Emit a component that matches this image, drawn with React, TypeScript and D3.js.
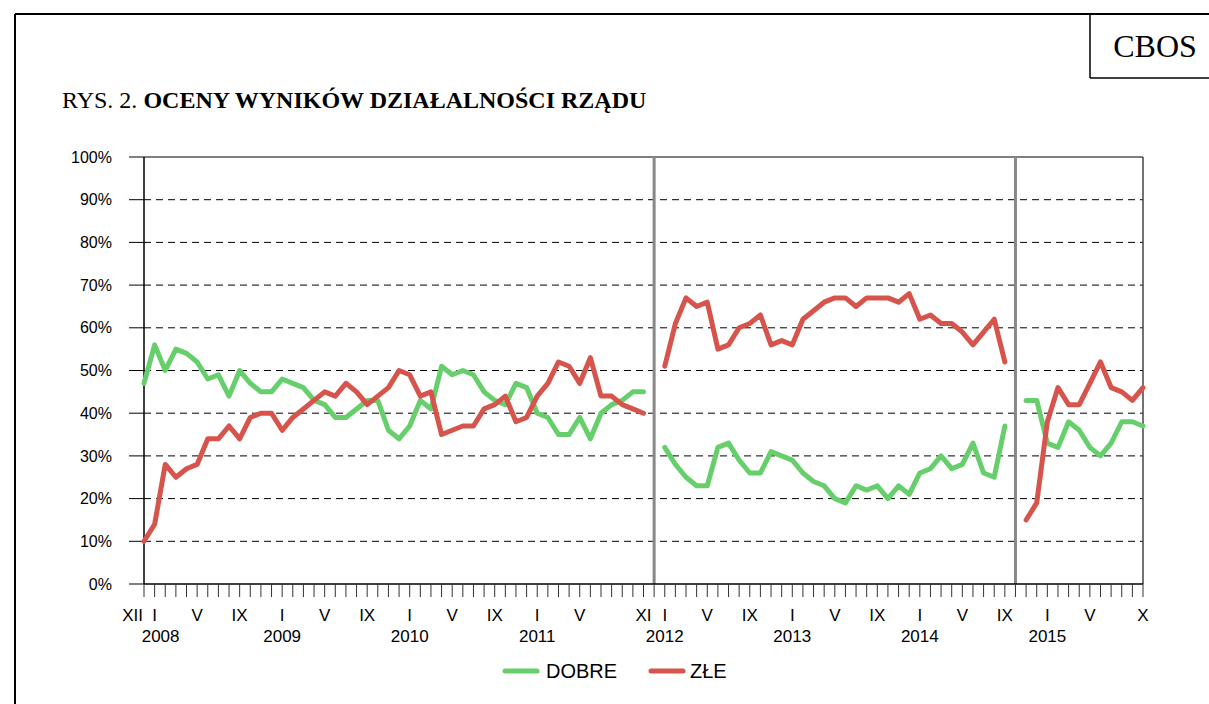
import React from "react";
import * as d3 from "d3";

// miesiące od XII 2007 (indeks 0) do X 2015 (indeks 94)
const startMonth = new Date(2007, 11, 1);
const endMonth = new Date(2015, 9, 1);
const months = d3.timeMonth.range(startMonth, d3.timeMonth.offset(endMonth, 1));

const romanMonths = ["I", "II", "III", "IV", "V", "VI", "VII", "VIII", "IX", "X", "XI", "XII"];
const yTicks = [0, 10, 20, 30, 40, 50, 60, 70, 80, 90, 100];
const years = [2008, 2009, 2010, 2011, 2012, 2013, 2014, 2015];
// miesiące z podpisem: indeks w szeregu
const labeledIdx = [0, 1, 5, 9, 13, 17, 21, 25, 29, 33, 37, 41, 47, 49, 53, 57, 61, 65, 69, 73, 77, 81, 85, 89, 94];
// przerwy w badaniach (pionowe linie)
const breakIdx = [48, 82];

const dobre: (number | null)[] = [
  47, 56, 50, 55, 54, 52, 48, 49, 44, 50, 47, 45, 45, 48, 47, 46, 43, 42, 39, 39, 41, 43, 43, 36,
  34, 37, 43, 41, 51, 49, 50, 49, 45, 43, 42, 47, 46, 40, 39, 35, 35, 39, 34, 40, 42, 43, 45, 45,
  null,
  32, 28, 25, 23, 23, 32, 33, 29, 26, 26, 31, 30, 29, 26, 24, 23, 20, 19, 23, 22, 23, 20, 23, 21,
  26, 27, 30, 27, 28, 33, 26, 25, 37,
  null,
  43, 43, 33, 32, 38, 36, 32, 30, 33, 38, 38, 37,
];

const zle: (number | null)[] = [
  10, 14, 28, 25, 27, 28, 34, 34, 37, 34, 39, 40, 40, 36, 39, 41, 43, 45, 44, 47, 45, 42, 44, 46,
  50, 49, 44, 45, 35, 36, 37, 37, 41, 42, 44, 38, 39, 44, 47, 52, 51, 47, 53, 44, 44, 42, 41, 40,
  null,
  51, 61, 67, 65, 66, 55, 56, 60, 61, 63, 56, 57, 56, 62, 64, 66, 67, 67, 65, 67, 67, 67, 66, 68,
  62, 63, 61, 61, 59, 56, 59, 62, 52,
  null,
  15, 19, 38, 46, 42, 42, 47, 52, 46, 45, 43, 46,
];

const GREEN = "#66cf6c";
const RED = "#d6544b";

export default function App() {
  const W = 1209;
  const H = 704;
  const left = 144;
  const right = 1143;
  const top = 157;
  const bottom = 584;

  const x = d3.scaleLinear().domain([0, months.length - 1]).range([left, right]);
  const y = d3.scaleLinear().domain([0, 100]).range([bottom, top]);

  const line = d3
    .line<number | null>()
    .defined((d) => d !== null)
    .x((_, i) => x(i))
    .y((d) => y(d as number));

  const sans = "'Liberation Sans', Arial, sans-serif";
  const serif = "'Liberation Serif', 'Times New Roman', serif";

  const yearIdx = (yr: number) => months.findIndex((m) => m.getFullYear() === yr && m.getMonth() === 0);

  return (
    <svg width={W} height={H} style={{ position: "absolute", left: 0, top: 0, background: "#fff" }}>
      {/* ramka */}
      <line x1={15} y1={14} x2={W} y2={14} stroke="#000" strokeWidth={2} />
      <line x1={15} y1={14} x2={15} y2={H} stroke="#000" strokeWidth={2} />
      <line x1={1090} y1={14} x2={1090} y2={78} stroke="#000" strokeWidth={1.5} />
      <line x1={1090} y1={78} x2={W} y2={78} stroke="#000" strokeWidth={1.5} />
      <text x={1155} y={57} textAnchor="middle" fontFamily={serif} fontSize={32}>
        CBOS
      </text>
      <text x={62} y={108} fontFamily={serif} fontSize={24}>
        RYS. 2. <tspan fontWeight="bold">OCENY WYNIKÓW DZIAŁALNOŚCI RZĄDU</tspan>
      </text>

      {/* siatka */}
      {yTicks.map((t) => (
        <g key={t}>
          {t > 0 && t < 100 && (
            <line x1={left} x2={right} y1={y(t)} y2={y(t)} stroke="#000" strokeWidth={1} strokeDasharray="7,5" />
          )}
          <line x1={left - 15} x2={left} y1={y(t)} y2={y(t)} stroke="#000" strokeWidth={1} />
          <text x={112} y={y(t)} dy="0.35em" textAnchor="end" fontFamily={sans} fontSize={16}>
            {t}%
          </text>
        </g>
      ))}
      <line x1={left} x2={right} y1={top} y2={top} stroke="#000" strokeWidth={1} />

      {/* przerwy */}
      {breakIdx.map((b) => (
        <line key={b} x1={x(b)} x2={x(b)} y1={top} y2={bottom} stroke="#888" strokeWidth={3} />
      ))}

      {/* osie */}
      <line x1={right} x2={right} y1={top} y2={bottom} stroke="#444" strokeWidth={1.5} />
      <line x1={left} x2={left} y1={top} y2={bottom} stroke="#000" strokeWidth={1.5} />
      <line x1={left} x2={right} y1={bottom} y2={bottom} stroke="#000" strokeWidth={1.5} />
      {months.map((_, i) => (
        <line key={i} x1={x(i)} x2={x(i)} y1={bottom} y2={bottom + 13} stroke="#333" strokeWidth={1} />
      ))}
      {labeledIdx.map((i) => (
        <text
          key={i}
          x={i === 0 ? x(i) - 1 : x(i)}
          y={621}
          textAnchor={i === 0 ? "end" : "middle"}
          fontFamily={sans}
          fontSize={17}
        >
          {romanMonths[months[i].getMonth()]}
        </text>
      ))}
      {years.map((yr) => (
        <text key={yr} x={x(yearIdx(yr)) + (yr === 2008 ? 6 : 0)} y={642} textAnchor="middle" fontFamily={sans} fontSize={17}>
          {yr}
        </text>
      ))}

      {/* serie */}
      <path d={line(dobre) || ""} fill="none" stroke={GREEN} strokeWidth={5} strokeLinejoin="round" strokeLinecap="round" />
      <path d={line(zle) || ""} fill="none" stroke={RED} strokeWidth={5} strokeLinejoin="round" strokeLinecap="round" />

      {/* legenda */}
      <line x1={505} x2={537} y1={671} y2={671} stroke={GREEN} strokeWidth={5} strokeLinecap="round" />
      <text x={546} y={678} fontFamily={sans} fontSize={20}>
        DOBRE
      </text>
      <line x1={651} x2={683} y1={671} y2={671} stroke={RED} strokeWidth={5} strokeLinecap="round" />
      <text x={690} y={678} fontFamily={sans} fontSize={20}>
        ZŁE
      </text>
    </svg>
  );
}
